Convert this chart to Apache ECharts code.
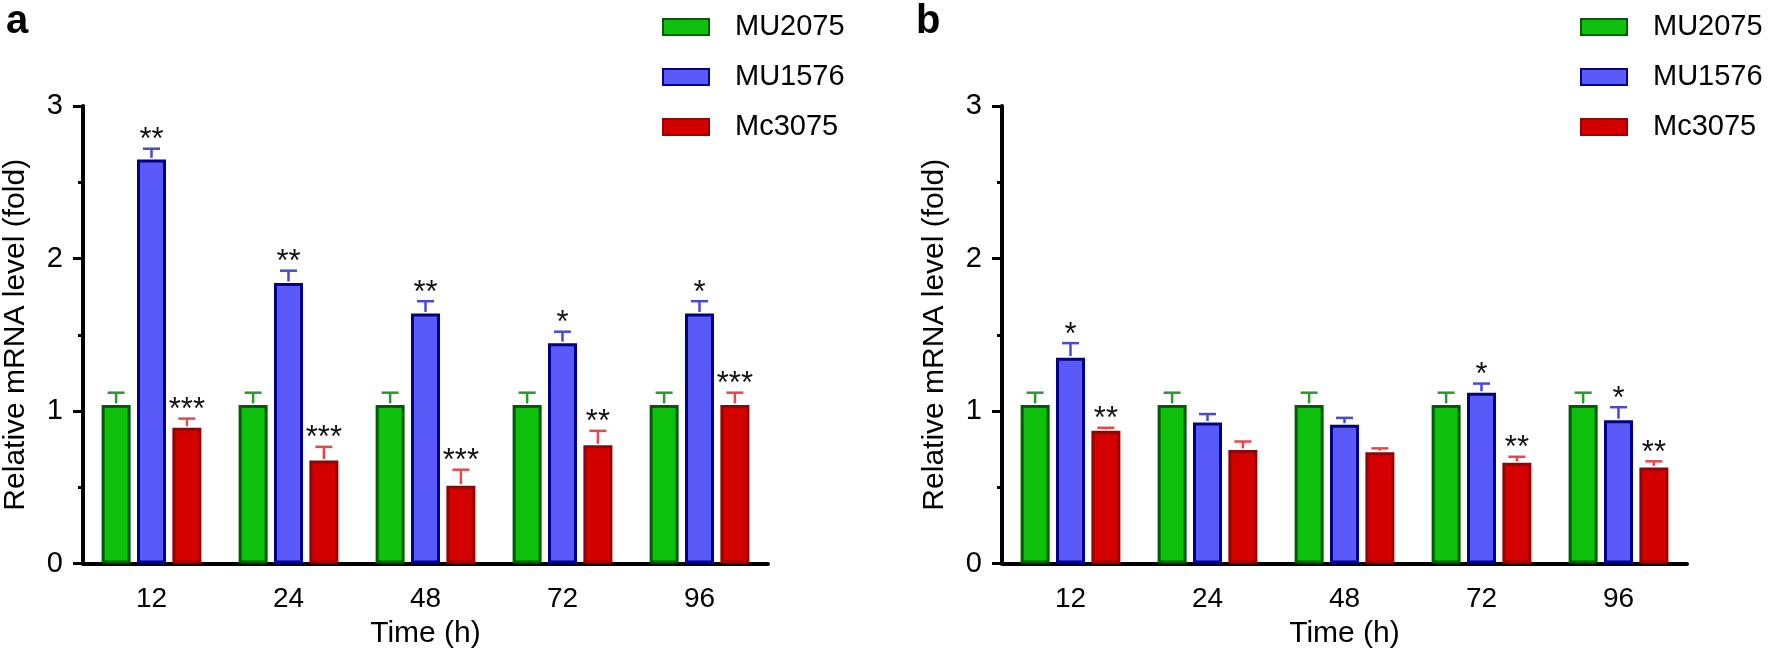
<!DOCTYPE html>
<html>
<head>
<meta charset="utf-8">
<script src="https://cdn.jsdelivr.net/npm/echarts@6/dist/echarts.min.js"></script>
<style>
  html, body { margin: 0; padding: 0; background: #ffffff; }
  #chart { width: 1769px; height: 654px; }
</style>
</head>
<body>
<div id="chart"></div>
<script>
// ---------- data ----------
const categories = ['12', '24', '48', '72', '96'];
const seriesNames = ['MU2075', 'MU1576', 'Mc3075'];
const yTicks = [0, 1, 2, 3];

// Panel a
const aMU2075 = [1.04, 1.04, 1.04, 1.04, 1.04];
const aMU2075Err = [0.08, 0.08, 0.08, 0.08, 0.08];
const aMU2075Stars = ['', '', '', '', ''];
const aMU1576 = [2.65, 1.84, 1.64, 1.445, 1.64];
const aMU1576Err = [0.07, 0.08, 0.08, 0.075, 0.08];
const aMU1576Stars = ['**', '**', '**', '*', '*'];
const aMc3075 = [0.89, 0.675, 0.51, 0.775, 1.04];
const aMc3075Err = [0.06, 0.09, 0.105, 0.095, 0.08];
const aMc3075Stars = ['***', '***', '***', '**', '***'];

// Panel b
const bMU2075 = [1.04, 1.04, 1.04, 1.04, 1.04];
const bMU2075Err = [0.08, 0.08, 0.08, 0.08, 0.08];
const bMU2075Stars = ['', '', '', '', ''];
const bMU1576 = [1.35, 0.925, 0.91, 1.12, 0.94];
const bMU1576Err = [0.095, 0.055, 0.045, 0.06, 0.085];
const bMU1576Stars = ['*', '', '', '*', '*'];
const bMc3075 = [0.87, 0.745, 0.73, 0.66, 0.63];
const bMc3075Err = [0.02, 0.055, 0.025, 0.04, 0.04];
const bMc3075Stars = ['**', '', '', '**', '**'];

// ---------- styles ----------
const FONT = 'Liberation Sans, Arial, sans-serif';
const fills = ['#0cc00c', '#5a5af8', '#d40000'];
const borders = ['#005c00', '#00008c', '#9a0000'];
const errColors = ['#2e962e', '#4a4ad0', '#e24a4a'];
const BAR_W = 29;
const GAP = 0.22;

const panels = [
  { vals: [aMU2075, aMU1576, aMc3075], errs: [aMU2075Err, aMU1576Err, aMc3075Err], stars: [aMU2075Stars, aMU1576Stars, aMc3075Stars] },
  { vals: [bMU2075, bMU1576, bMc3075], errs: [bMU2075Err, bMU1576Err, bMc3075Err], stars: [bMU2075Stars, bMU1576Stars, bMc3075Stars] }
];
const gridLefts = [83, 1002];
const legendLefts = [662, 1580];

const chart = echarts.init(document.getElementById('chart'), null, { renderer: 'canvas' });

const grids = [], xAxes = [], yAxes = [], series = [], legends = [];

panels.forEach((p, pi) => {
  grids.push({ left: gridLefts[pi], width: 685, top: 106, height: 457.5, containLabel: false });
  xAxes.push({
    type: 'category', gridIndex: pi, data: categories,
    name: 'Time (h)', nameLocation: 'middle', nameGap: 52,
    nameTextStyle: { fontFamily: FONT, fontSize: 30, color: '#000' },
    axisLine: { lineStyle: { color: '#000', width: 4 } },
    axisTick: { alignWithLabel: true, length: 12, lineStyle: { color: '#000', width: 3 } },
    axisLabel: { fontFamily: FONT, fontSize: 28, color: '#000', margin: 22 },
    splitLine: { show: false }
  });
  yAxes.push({
    type: 'value', gridIndex: pi, min: yTicks[0], max: yTicks[yTicks.length - 1], interval: 1,
    name: 'Relative mRNA level (fold)', nameLocation: 'middle', nameGap: 52, nameRotate: 90,
    nameTextStyle: { fontFamily: FONT, fontSize: 30, color: '#000' },
    axisLine: { show: true, lineStyle: { color: '#000', width: 4 } },
    axisTick: { show: true, length: 10, lineStyle: { color: '#000', width: 3 } },
    minorTick: { show: true, splitNumber: 2, length: 5, lineStyle: { color: '#000', width: 3 } },
    axisLabel: { fontFamily: FONT, fontSize: 29, color: '#000', margin: 20 },
    splitLine: { show: false }
  });
  p.vals.forEach((vals, si) => {
    series.push({
      name: seriesNames[si], type: 'bar', xAxisIndex: pi, yAxisIndex: pi,
      data: vals, barWidth: BAR_W, barGap: (GAP * 100) + '%',
      itemStyle: { color: fills[si], borderColor: borders[si], borderWidth: 3 },
      z: 3
    });
  });
  p.vals.forEach((vals, si) => {
    const errs = p.errs[si], stars = p.stars[si];
    series.push({
      type: 'custom', xAxisIndex: pi, yAxisIndex: pi, silent: true, z: 4,
      data: vals.map((v, i) => [i, v, errs[i]]),
      encode: { x: 0, y: 1 },
      renderItem: (params, api) => {
        const ci = api.value(0), v = api.value(1), e = api.value(2);
        const off = (si - 1) * BAR_W * (1 + GAP);
        const base = api.coord([ci, v]);
        const top = api.coord([ci, v + e]);
        const x = base[0] + off;
        const st = { stroke: errColors[si], lineWidth: 2.5 };
        const children = [
          { type: 'line', shape: { x1: x, y1: base[1] - 1.5, x2: x, y2: top[1] }, style: st },
          { type: 'line', shape: { x1: x - 8.5, y1: top[1], x2: x + 8.5, y2: top[1] }, style: st }
        ];
        const s = stars[params.dataIndex];
        if (s) {
          children.push({
            type: 'text',
            style: { text: s, x: x, y: top[1] - 8, align: 'center', verticalAlign: 'middle',
                     font: '31px ' + FONT, fill: '#111' }
          });
        }
        return { type: 'group', children: children };
      }
    });
  });
  legends.push({
    show: true, orient: 'vertical', left: legendLefts[pi], top: 12, padding: 0,
    data: seriesNames, icon: 'rect', itemWidth: 46, itemHeight: 16, itemGap: 20,
    selectedMode: false,
    textStyle: { fontFamily: FONT, fontSize: 29, color: '#000', lineHeight: 30, padding: [0, 0, 0, 21] }
  });
});

const option = {
  backgroundColor: '#ffffff',
  animation: false,
  grid: grids,
  xAxis: xAxes,
  yAxis: yAxes,
  legend: legends,
  series: series,
  graphic: [
    { type: 'text', left: 6, top: 2, style: { text: 'a', font: 'bold 40px ' + FONT, fill: '#000' } },
    { type: 'text', left: 916, top: 2, style: { text: 'b', font: 'bold 40px ' + FONT, fill: '#000' } }
  ]
};
chart.setOption(option);
</script>
</body>
</html>
